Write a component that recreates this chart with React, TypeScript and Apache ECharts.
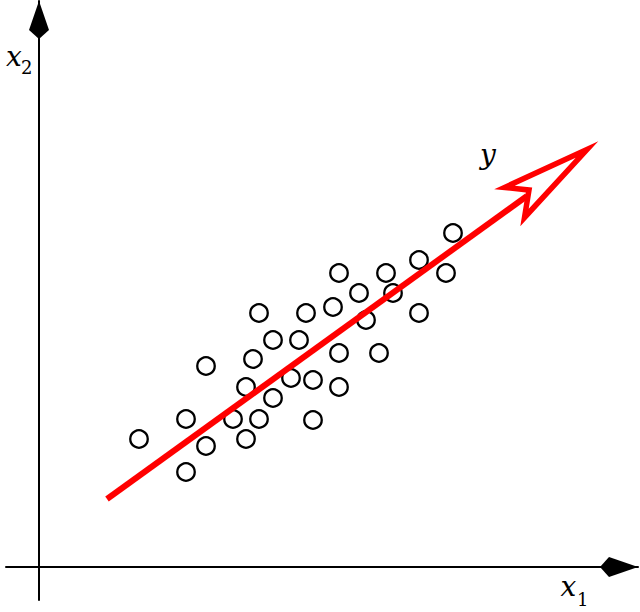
import React, { useEffect, useRef } from "react";
import * as echarts from "echarts";

// Scatter sample (x1, x2) in chart units
const pointsX = [10.0, 14.7, 14.7, 16.7, 16.7, 19.4, 20.7, 20.7, 21.4, 22.0, 22.0, 23.4, 23.4, 25.2, 26.0, 26.7, 27.4, 27.4, 29.4, 30.0, 30.0, 30.0, 32.0, 32.7, 34.0, 34.7, 35.4, 38.0, 38.0, 40.7, 41.4];
const pointsY = [12.8, 14.8, 9.5, 20.1, 12.1, 14.8, 18.0, 12.8, 20.8, 25.4, 14.8, 22.7, 16.9, 18.9, 22.7, 25.4, 18.7, 14.7, 26.0, 29.4, 21.4, 18.0, 27.4, 24.7, 21.4, 29.4, 27.4, 30.7, 25.4, 29.4, 33.4];

// Red direction arrow y: shaft and open arrowhead outline (tip, left barb, notch, right barb)
const shaftX = [6.8, 48.8];
const shaftY = [6.8, 37.1];
const headX = [54.8, 46.55, 49.0, 48.55];
const headY = [41.75, 37.95, 37.7, 34.95];

// Axis extents
const xMin = -3.3;
const xMax = 59.9;
const yMin = -3.3;
const yMax = 56.6;

const ARROW = "path://M10,0 L20,29 L10,38 L0,29 Z";
const SERIF = "DejaVu Serif";
const RED = "#ff0000";
const OUTLINE = 5.5;

// Miter offset of a closed polygon (d > 0 outward)
function offsetPoly(pts: number[][], d: number): number[][] {
  const n = pts.length;
  let area = 0;
  for (let i = 0; i < n; i++) {
    const a = pts[i];
    const b = pts[(i + 1) % n];
    area += a[0] * b[1] - b[0] * a[1];
  }
  const s = area >= 0 ? 1 : -1;
  const normals: number[][] = [];
  for (let i = 0; i < n; i++) {
    const a = pts[i];
    const b = pts[(i + 1) % n];
    const dx = b[0] - a[0];
    const dy = b[1] - a[1];
    const len = Math.hypot(dx, dy) || 1;
    normals.push([(s * dy) / len, (-s * dx) / len]);
  }
  return pts.map((p, i) => {
    const n1 = normals[(i - 1 + n) % n];
    const n2 = normals[i];
    const k = d / (1 + n1[0] * n2[0] + n1[1] * n2[1]);
    return [p[0] + k * (n1[0] + n2[0]), p[1] + k * (n1[1] + n2[1])];
  });
}

export default function App() {
  const ref = useRef<HTMLDivElement>(null);

  useEffect(() => {
    if (!ref.current) return;
    const chart = echarts.init(ref.current, null, { renderer: "svg" });

    const axisCommon = {
      type: "value" as const,
      axisTick: { show: false },
      axisLabel: { show: false },
      splitLine: { show: false },
      axisLine: {
        show: true,
        onZero: true,
        symbol: ["none", ARROW],
        symbolSize: [20, 38],
        symbolOffset: [0, -19],
        lineStyle: { color: "#000", width: 2 },
      },
    };

    const label = (text: string, left: number, top: number, size: number, italic: boolean) => ({
      text,
      left,
      top,
      padding: 0,
      itemGap: 0,
      textStyle: {
        fontFamily: SERIF,
        fontSize: size,
        fontStyle: italic ? "italic" : "normal",
        fontWeight: "normal",
        color: "#000",
        lineHeight: size,
      },
    });

    chart.setOption({
      animation: false,
      backgroundColor: "#fff",
      title: [
        label("x", 6, 42, 28, true),
        label("2", 21, 58, 18, false),
        label("x", 560.5, 572, 28, true),
        label("1", 577, 590.5, 18, false),
        label("y", 480, 140.5, 28, true),
      ],
      grid: { left: 6, right: 2, top: 1, bottom: 12 },
      xAxis: { ...axisCommon, min: xMin, max: xMax },
      yAxis: { ...axisCommon, min: yMin, max: yMax },
      series: [
        {
          type: "scatter",
          z: 2,
          symbol: "circle",
          symbolSize: 17.5,
          itemStyle: {
            color: "rgba(255,255,255,0)",
            borderColor: "#000",
            borderWidth: 2.3,
            opacity: 1,
          },
          data: pointsX.map((x, i) => [x, pointsY[i]]),
        },
        {
          type: "line",
          z: 3,
          symbol: "none",
          lineStyle: { color: RED, width: 6, cap: "butt" },
          data: shaftX.map((x, i) => [x, shaftY[i]]),
        },
        {
          type: "custom",
          z: 4,
          data: headX.map((x, i) => [x, headY[i]]),
          encode: { x: 0, y: 1 },
          renderItem: (params: any, api: any) => {
            if (params.dataIndex !== 0) return null;
            const pts = headX.map((x, i) => api.coord([x, headY[i]]));
            const outer = offsetPoly(pts, OUTLINE / 2);
            const inner = offsetPoly(pts, -OUTLINE / 2);
            return {
              type: "group",
              children: [
                { type: "polygon", shape: { points: outer }, style: { fill: RED } },
                { type: "polygon", shape: { points: inner }, style: { fill: "#fff" } },
              ],
            };
          },
        },
      ],
    });

    return () => chart.dispose();
  }, []);

  return (
    <div
      ref={ref}
      style={{ position: "absolute", left: 0, top: 0, width: 640, height: 612 }}
    />
  );
}
